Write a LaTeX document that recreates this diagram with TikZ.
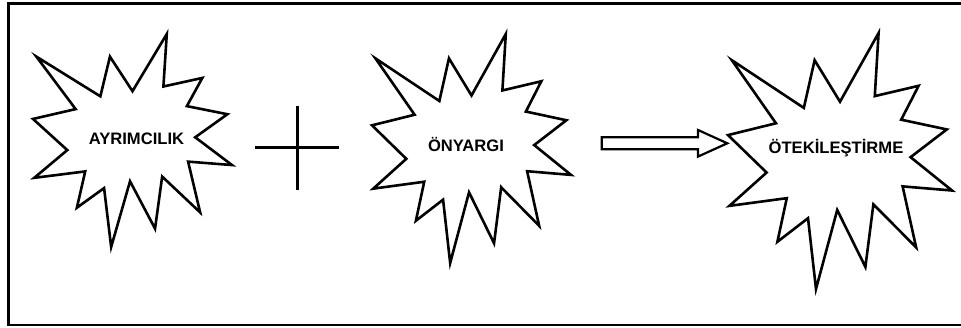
\documentclass[tikz,border=0pt]{standalone}
\usepackage{fontspec}
\setmainfont{Liberation Sans}
\usepackage{tikz}
\usetikzlibrary{calc,positioning}

\begin{document}
\begin{tikzpicture}[x=1pt, y=-1pt]
\tikzset{burstline/.style={draw, line width=2.6pt, line join=miter, fill=white},
wordlabel/.style={font=\fontsize{16.6}{18}\selectfont\bfseries, inner sep=0, anchor=base},
plusline/.style={line width=3.4pt},
blockarrow/.style={draw, line width=2.2pt, line join=miter},
burst/.pic={
\draw[burstline] (50,26.85) -- (67.23,0) -- (65.53,24.65) -- (85.09,20.63)
  -- (77.32,33.87) -- (97.67,37.67) -- (81.51,48.50) -- (100,61.53)
  -- (77.95,59.92) -- (84.00,83.77) -- (64.91,66.93) -- (61.33,91.38)
  -- (48.76,69.14) -- (39.28,100) -- (35.72,72.35) -- (22.05,81.56)
  -- (26.24,64.52) -- (0.63,67.53) -- (17.23,54.51) -- (0,39.88)
  -- (21.42,35.26) -- (1.71,10.63) -- (33.85,29.26) -- (38.67,10.63) -- cycle;
}}

\useasboundingbox (0,0) rectangle (961,328);
\draw[line width=2.6pt] (8.7,3.8) rectangle (975,325);

%% Bursts
\begin{scope}[shift={(33,34)}, x=1.99pt, y=-2.13pt]
\pic {burst};
\end{scope}
\begin{scope}[shift={(372,34)}, x=1.99pt, y=-2.29pt]
\pic {burst};
\end{scope}
\begin{scope}[shift={(728,33)}, x=2.24pt, y=-2.56pt]
\pic {burst};
\end{scope}

\node (ayrim) [wordlabel] at (136.5,144.3) {AYRIMCILIK};
\node (onyargi) [wordlabel] at (466,152) {ÖNYARGI};
\node (otekil) [wordlabel] at (836,153.5) {ÖTEKİLEŞTİRME};

%% Plus and arrow
\coordinate (plus) at (297.3,147.7);
\draw[plusline] ($(plus)+(-42,0)$) -- ($(plus)+(42,0)$);
\draw[plusline] ($(plus)+(0,-42)$) -- ($(plus)+(0,42.3)$);

\coordinate (arrtip) at (727.3,143.3);
\draw[blockarrow] ($(arrtip)+(-125.6,-6)$) -- ($(arrtip)+(-29.3,-6)$)
  -- ($(arrtip)+(-29.3,-13.3)$) -- (arrtip) -- ($(arrtip)+(-29.3,13.3)$)
  -- ($(arrtip)+(-29.3,6)$) -- ($(arrtip)+(-125.6,6)$) -- cycle;

\end{tikzpicture}
\end{document}
